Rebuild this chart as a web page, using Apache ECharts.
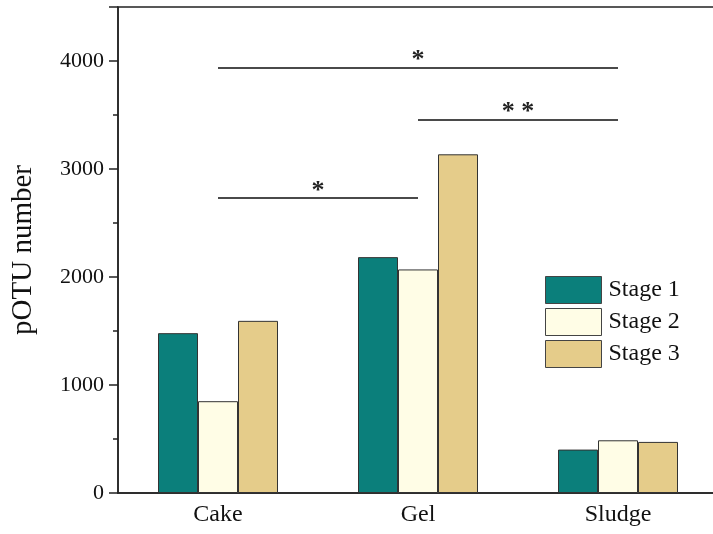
<!DOCTYPE html>
<html>
<head>
<meta charset="utf-8">
<script src="https://cdn.jsdelivr.net/npm/echarts@6/dist/echarts.min.js"></script>
<style>html,body{margin:0;padding:0;background:#fff;}#c{width:713px;height:534px;}</style>
</head>
<body>
<div id="c"></div>
<script>
const categories = ['Cake', 'Gel', 'Sludge'];
const seriesNames = ['Stage 1', 'Stage 2', 'Stage 3'];
const stage1 = [1480, 2184, 402];
const stage2 = [850, 2070, 488];
const stage3 = [1594, 3136, 473];
const yTicks = [0, 1000, 2000, 3000, 4000];
// significance brackets: [fromCategory, toCategory, level, mark]
const sig1 = ['Cake', 'Sludge', 3940, '*'];
const sig2 = ['Gel', 'Sludge', 3460, '* *'];
const sig3 = ['Cake', 'Gel', 2730, '*'];

const colors = ['#0b7f7b', '#fffde6', '#e5cc8a'];
const font = 'Liberation Serif';

const chart = echarts.init(document.getElementById('c'), null, {renderer: 'canvas'});

function bracket(s) {
  return [
    {coord: [s[0], s[2]], label: {formatter: s[3]}},
    {coord: [s[1], s[2]]}
  ];
}

const dataSets = [stage1, stage2, stage3];
const series = seriesNames.map((n, i) => ({
  name: n,
  type: 'bar',
  data: dataSets[i],
  barWidth: 40,
  barGap: '0%',
  itemStyle: {color: colors[i], borderColor: '#333', borderWidth: 1},
  markLine: i === 1 ? {
    silent: true,
    symbol: ['none', 'none'],
    lineStyle: {color: '#4a4a4a', width: 2, type: 'solid'},
    label: {show: true, position: 'middle', fontFamily: font, fontSize: 26, fontWeight: 'bold', color: '#222', distance: -6},
    data: [bracket(sig1), bracket(sig2), bracket(sig3)]
  } : undefined
}));

chart.setOption({
  animation: false,
  textStyle: {fontFamily: font},
  grid: {left: 118, top: 7, width: 600, bottom: 41, outerBoundsMode: 'none', containLabel: false, show: true, borderColor: '#222', borderWidth: 1.5},
  legend: {
    orient: 'vertical',
    left: 545, top: 276, padding: 0,
    icon: 'rect',
    itemWidth: 56, itemHeight: 27, itemGap: 4,
    itemStyle: {borderColor: '#444', borderWidth: 1},
    textStyle: {fontFamily: font, fontSize: 24, lineHeight: 27, color: '#111', padding: [0, 0, 0, 2]},
    data: seriesNames
  },
  xAxis: {
    type: 'category',
    data: categories,
    axisLine: {lineStyle: {color: '#222', width: 1.5}},
    axisTick: {show: false},
    axisLabel: {fontFamily: font, fontSize: 24, color: '#111', margin: 10}
  },
  yAxis: {
    type: 'value',
    min: 0, max: 4500, interval: 1000,
    name: 'pOTU number',
    nameLocation: 'middle',
    nameGap: 80,
    nameTextStyle: {fontFamily: font, fontSize: 29, color: '#111'},
    axisLine: {show: true, lineStyle: {color: '#222', width: 1.5}},
    axisTick: {show: true, length: 9, lineStyle: {color: '#222', width: 1.5}},
    minorTick: {show: true, splitNumber: 2, length: 5, lineStyle: {color: '#222', width: 1.5}},
    splitLine: {show: false},
    axisLabel: {
      fontFamily: font, fontSize: 22, color: '#111', margin: 14,
      formatter: v => (yTicks.indexOf(v) >= 0 ? String(v) : '')
    }
  },
  series: series
});
</script>
</body>
</html>
